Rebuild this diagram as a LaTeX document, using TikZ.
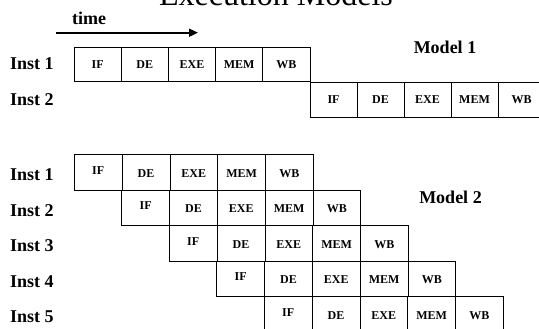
\documentclass[tikz,border=0pt]{standalone}
\usepackage{fontspec}
\setmainfont{Liberation Serif}
\usetikzlibrary{arrows.meta}
\begin{document}
\begin{tikzpicture}[x=1pt,y=-1pt,
  stage/.style={draw=black, line width=0.8pt, inner sep=0pt,
    minimum width=#1, minimum height=35pt,
    font=\bfseries\fontsize{12}{12}\selectfont},
  stage/.default=47.5pt,
  stagetext/.style={inner sep=0pt, font=\bfseries\fontsize{12}{12}\selectfont},
  instlabel/.style={anchor=base west, inner sep=0pt,
    font=\bfseries\fontsize{18}{18}\selectfont},
  modellabel/.style={anchor=base, inner sep=0pt,
    font=\bfseries\fontsize{18}{18}\selectfont},
  timearrow/.style={line width=1.8pt, -{Triangle[length=9pt,width=8pt]}}]
  \useasboundingbox (0,0) rectangle (539,329);
  \clip (0,0) rectangle (539,329);

  % heading
  \node[anchor=base, inner sep=0pt, font=\fontsize{32}{32}\selectfont]
    (title) at (276,6) {Execution Models};

  % time axis
  \node[anchor=base, inner sep=0pt, font=\bfseries\fontsize{18}{18}\selectfont]
    (timelabel) at (89,25) {time};
  \coordinate (tstart) at (56,32.7);
  \coordinate (tend) at (198,32.7);
  \draw[timearrow] (tstart) -- (tend);

  % Model 1: sequential execution
  \node[instlabel] (m1i1) at (10,70) {Inst 1};
  \node[instlabel] (m1i2) at (10,106) {Inst 2};
  \node[modellabel] (model1) at (445,53.5) {Model 1};
  \foreach \s [count=\i from 0] in {IF,DE,EXE,MEM,WB} {
    \node[stage=47.2pt, minimum height=34.7pt] (a\i) at ({74+47.2*(\i+0.5)},64.35) {\s};
    \node[stage=47pt] (b\i) at ({310+47*(\i+0.5)},99.5) {\s};
  }

  % Model 2: pipelined execution
  \node[modellabel] (model2) at (450.5,203.3) {Model 2};
  \foreach \r in {0,...,4} {
    \pgfmathtruncatemacro{\n}{\r+1}
    \node[instlabel] (m2i\n) at (10,{180.7+35.5*\r}) {Inst \n};
    \foreach \s [count=\i from 0] in {IF,DE,EXE,MEM,WB} {
      \node[stage=47.8pt, minimum height=35.5pt] (p\r\i)
        at ({74.3+47.5*\r+47.8*(\i+0.5)},{154.5+35.5*\r+17.75}) {};
      \ifnum\i=0
        \node[stagetext] (q\r\i) at ([yshift=2pt]p\r\i.center) {\s};
      \else
        \node[stagetext] (q\r\i) at ([yshift=-1pt]p\r\i.center) {\s};
      \fi
    }
  }
\end{tikzpicture}
\end{document}
